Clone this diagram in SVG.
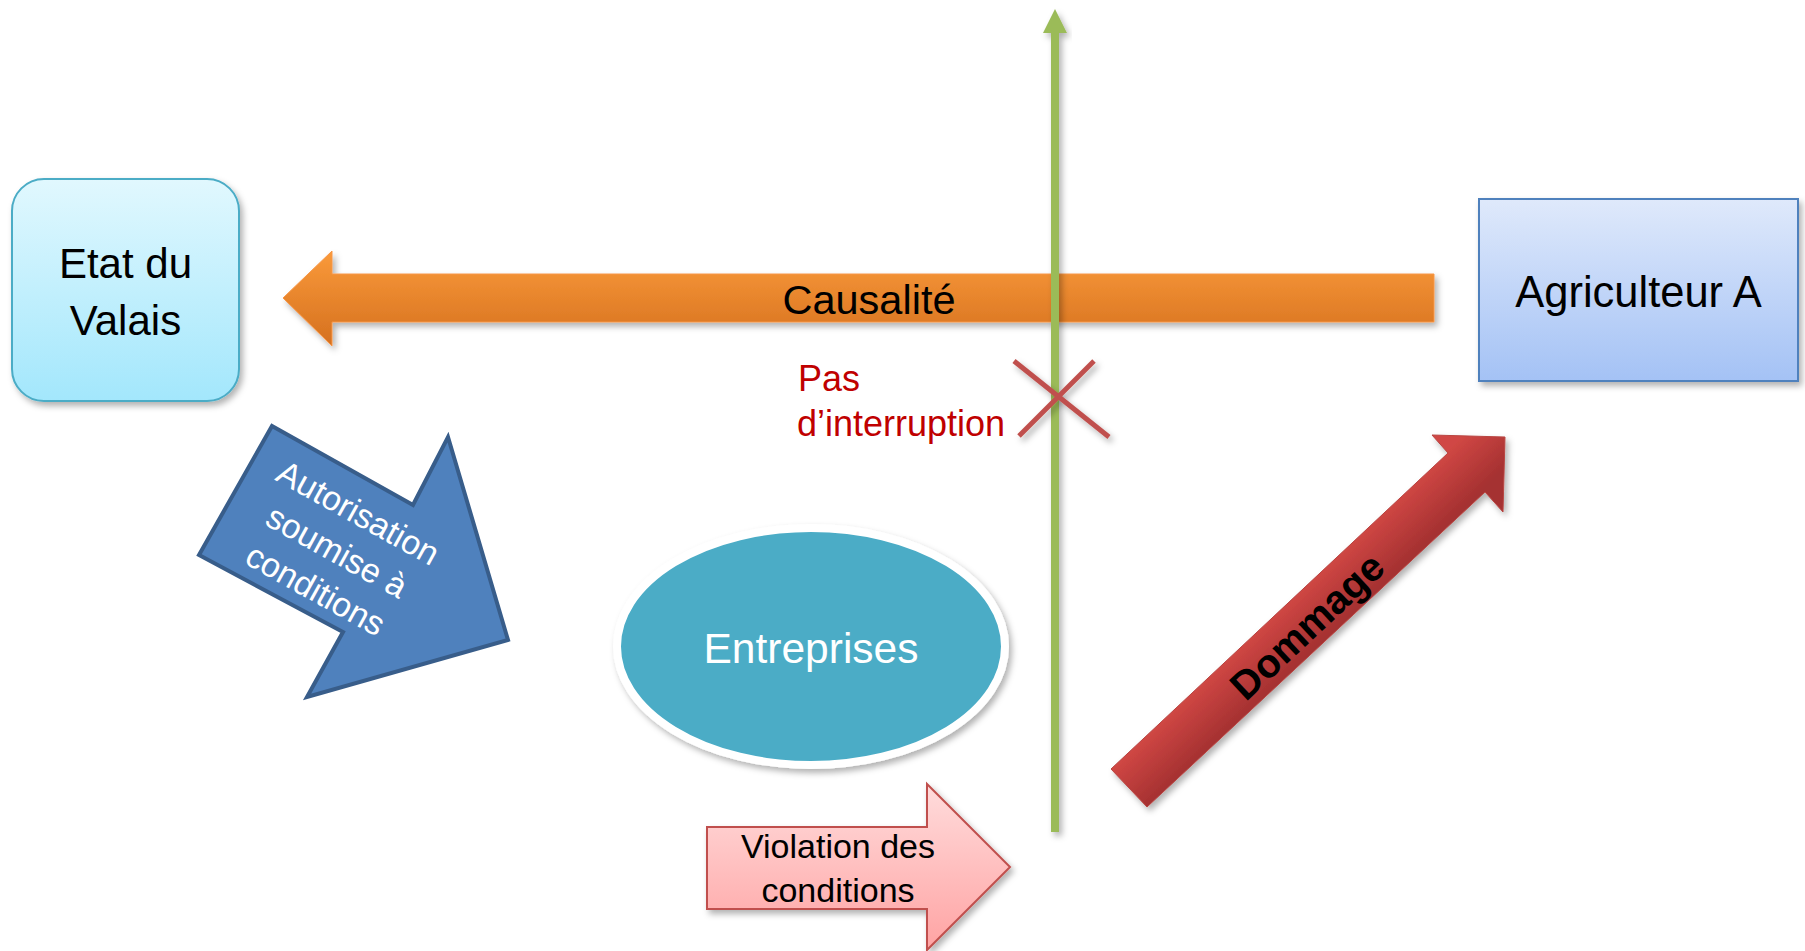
<svg xmlns="http://www.w3.org/2000/svg" width="1805" height="951" viewBox="0 0 1805 951">
<defs>
<style>
.t{font-family:"Liberation Sans",Arial,sans-serif;}
.blk{fill:#000;}
.wht{fill:#fff;}
</style>
<filter id="sh" x="-20%" y="-20%" width="140%" height="140%">
<feDropShadow dx="3" dy="4" stdDeviation="3" flood-color="#000" flood-opacity="0.3"/>
</filter>
<linearGradient id="gEtat" x1="0" y1="0" x2="0" y2="1">
<stop offset="0" stop-color="#E1F8FE"/>
<stop offset="1" stop-color="#A3E7FC"/>
</linearGradient>
<linearGradient id="gAgri" x1="0" y1="0" x2="0" y2="1">
<stop offset="0" stop-color="#DFE9FB"/>
<stop offset="1" stop-color="#A4C2F5"/>
</linearGradient>
<linearGradient id="gOr" x1="0" y1="0" x2="0" y2="1">
<stop offset="0" stop-color="#FA9A3A"/>
<stop offset="1" stop-color="#D5701F"/>
</linearGradient>
<linearGradient id="gViol" x1="0" y1="0" x2="0" y2="1">
<stop offset="0" stop-color="#FFDCDC"/>
<stop offset="1" stop-color="#FFA3A3"/>
</linearGradient>
<linearGradient id="gDom" gradientUnits="userSpaceOnUse" x1="1111" y1="769" x2="1147" y2="807">
<stop offset="0" stop-color="#D04744"/>
<stop offset="1" stop-color="#A53131"/>
</linearGradient>
</defs>
<rect width="1805" height="951" fill="#fff"/>

<g id="etat">
<rect x="12" y="179" width="227" height="222" rx="32" ry="32" fill="url(#gEtat)" stroke="#4BACC6" stroke-width="2" filter="url(#sh)"/>
<text class="t blk" font-size="42" text-anchor="middle" x="125.5" y="278">Etat du</text>
<text class="t blk" font-size="42" text-anchor="middle" x="125.5" y="335">Valais</text>
</g>

<g id="agriculteur">
<rect x="1479" y="199" width="319" height="182" fill="url(#gAgri)" stroke="#4F81BD" stroke-width="2" filter="url(#sh)"/>
<text class="t blk" font-size="43.5" text-anchor="middle" x="1638.5" y="307">Agriculteur A</text>
</g>

<g id="entreprises">
<ellipse cx="811" cy="646.5" rx="194" ry="118.5" fill="#4BACC6" stroke="#fff" stroke-width="8" filter="url(#sh)"/>
<text class="t wht" font-size="42.5" text-anchor="middle" x="811" y="663">Entreprises</text>
</g>

<g id="connectors">
<g id="causalite">
<polygon points="283,298 332,251 332,274 1434,274 1434,322 332,322 332,346" fill="url(#gOr)" stroke="#F79646" stroke-width="1" filter="url(#sh)"/>
<text class="t blk" font-size="41.5" text-anchor="middle" x="869" y="314">Causalité</text>
</g>
<g id="autorisation">
<polygon points="272,426 413,505 448,437 508,640 307,697 343,632 199,555" fill="#4F81BD" stroke="#385D8A" stroke-width="4" stroke-linejoin="miter"/>
<g transform="translate(337,551) rotate(29)">
<text class="t wht" font-size="34" text-anchor="middle" x="0" y="-32">Autorisation</text>
<text class="t wht" font-size="34" text-anchor="middle" x="0" y="12">soumise à</text>
<text class="t wht" font-size="34" text-anchor="middle" x="0" y="56">conditions</text>
</g>
</g>
<g id="violation">
<polygon points="707,827 927,827 927,784 1010,867 927,950 927,909 707,909" fill="url(#gViol)" stroke="#C0504D" stroke-width="2" filter="url(#sh)"/>
<text class="t blk" font-size="34" text-anchor="middle" x="838" y="858">Violation des</text>
<text class="t blk" font-size="34" text-anchor="middle" x="838" y="902">conditions</text>
</g>
<g id="dommage">
<polygon points="1111,769 1448,453 1432,435 1505,437 1503,512 1485,492 1147,807" fill="url(#gDom)" stroke="#B84542" stroke-width="1" filter="url(#sh)"/>
<g transform="translate(1307,626) rotate(-43)">
<text class="t blk" font-size="40" font-weight="bold" text-anchor="middle" x="0" y="14">Dommage</text>
</g>
</g>
<g id="axe" filter="url(#sh)">
<rect x="1051" y="33" width="8" height="799" fill="#9BBB59"/>
<polygon points="1055,9 1067,33 1043,33" fill="#9BBB59"/>
</g>
<g id="interruption">
<g stroke="#C0504D" stroke-width="5" filter="url(#sh)">
<line x1="1014" y1="361" x2="1109" y2="437"/>
<line x1="1094" y1="361" x2="1019" y2="436"/>
</g>
<text class="t" fill="#C00000" font-size="36" x="798" y="391">Pas</text>
<text class="t" fill="#C00000" font-size="36" x="797" y="436">d’interruption</text>
</g>
</g>
</svg>
